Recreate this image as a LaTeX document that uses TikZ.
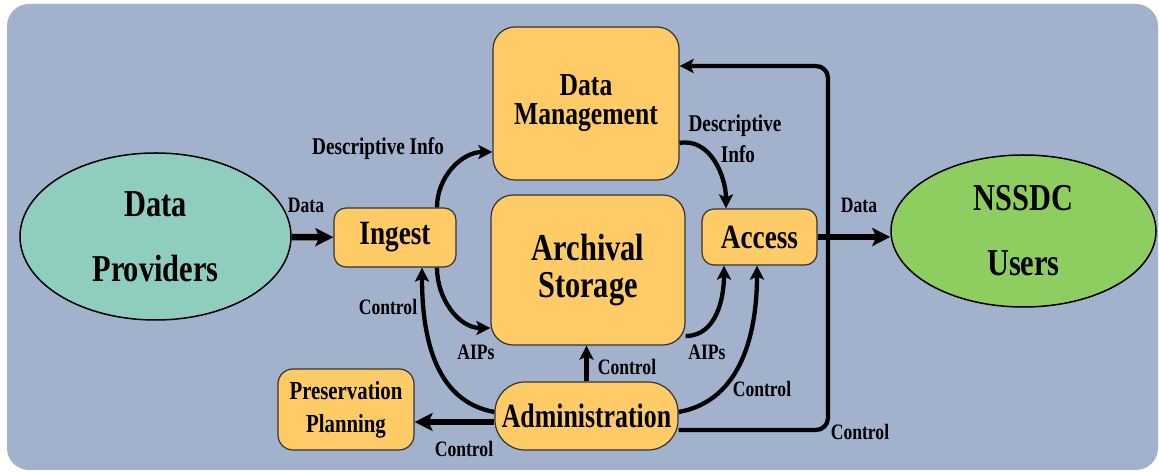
\documentclass[tikz,border=0pt]{standalone}
\usepackage{fontspec}
\setmainfont{Liberation Serif}
\usepackage{graphicx}
\usetikzlibrary{arrows.meta,shapes.geometric}
\definecolor{bgblue}{RGB}{162,177,204}
\definecolor{boxorange}{RGB}{254,203,102}
\definecolor{provteal}{RGB}{143,206,190}
\definecolor{usergreen}{RGB}{142,206,96}
\newcommand{\condtxt}[2][0.8]{\scalebox{#1}[1]{#2}}

\begin{document}
\begin{tikzpicture}[x=1pt,y=1pt,
    box/.style={draw=black!80, line width=1.2pt, fill=boxorange, inner sep=0pt, align=center},
    oval/.style={ellipse, draw=black, line width=1.5pt, inner sep=0pt, align=center,
        font=\bfseries\fontsize{38}{65}\selectfont},
    arr/.style={-{Stealth[length=14pt,width=14pt,inset=3pt]}, line width=4.3pt},
    fat/.style={-{Stealth[length=18pt,width=18pt,inset=4pt]}, line width=6.5pt},
    lbl/.style={font=\bfseries\fontsize{22}{24}\selectfont, inner sep=0pt, anchor=base}]
        \useasboundingbox (0,0) rectangle (1159,473);
        \fill[bgblue, rounded corners=22pt] (7,3) rectangle (1158,469);

        % outside parties
        \node[oval, fill=provteal, minimum width=271pt, minimum height=167pt] (dp) at (155.5,236.5) {\condtxt{Data}\\\condtxt{Providers}};
        \node[oval, fill=usergreen, minimum width=265pt, minimum height=152pt] (users) at (1023.5,242) {\condtxt{NSSDC}\\\condtxt{Users}};

        % archive functions
        \node[box, rounded corners=12pt, minimum width=122pt, minimum height=59pt,
            font=\bfseries\fontsize{34}{36}\selectfont] (ingest) at (395,235.5) {\condtxt{Ingest}};
        \node[box, rounded corners=12pt, minimum width=115pt, minimum height=56pt,
            font=\bfseries\fontsize{34}{36}\selectfont] (access) at (759.5,236) {\condtxt{Access}};
        \node[box, rounded corners=22pt, minimum width=186pt, minimum height=153pt,
            font=\bfseries\fontsize{32}{29}\selectfont] (dm) at (586,369.5) {\condtxt{Data}\\\condtxt{Management}};
        \node[box, rounded corners=22pt, minimum width=194pt, minimum height=150pt,
            font=\bfseries\fontsize{38}{37}\selectfont] (store) at (588,203) {\condtxt{Archival}\\\condtxt{Storage}};
        \node[box, rounded corners=30pt, minimum width=183pt, minimum height=68pt,
            font=\bfseries\fontsize{34}{36}\selectfont] (admin) at (586.5,57) {\condtxt[0.76]{Administration}};
        \node[box, rounded corners=15pt, minimum width=136pt, minimum height=81pt,
            font=\bfseries\fontsize{26}{33}\selectfont] (plan) at (346,63.5) {\condtxt{Preservation}\\\condtxt{Planning}};

        % flows
        \draw[fat] (dp) -- (ingest);
        \draw[arr] ([xshift=42pt]ingest.north) to[out=90,in=180] ([yshift=-48.5pt]dm.west);
        \draw[arr] ([xshift=42pt]ingest.south) to[out=-90,in=180] ([yshift=-58pt]store.west);
        \draw[arr] ([yshift=4pt]admin.west) to[out=170,in=-90] ([xshift=27pt]ingest.south);
        \draw[fat] ([yshift=-6pt]admin.west) -- ([yshift=-6pt]admin.west -| plan.east);
        \draw[arr] (admin.north) -- (admin.north |- store.south);
        \draw[arr] ([yshift=-66pt]store.east) to[out=0,in=-90] ([xshift=-35.5pt]access.south);
        \draw[arr] ([yshift=4pt]admin.east) to[out=10,in=-90] ([xshift=-2.5pt]access.south);
        \coordinate (turn) at (828,240);
        \draw[arr, rounded corners=12pt] ([yshift=-14pt]admin.east) -| (turn) |- ([yshift=37.5pt]dm.east);
        \draw[arr] ([yshift=-39.5pt]dm.east) to[out=10,in=90] ([xshift=-33.5pt]access.north);
        \draw[fat] (access.east) -- (access.east -| users.west);

        % labels
        \node[lbl] (ldata) at (306,260) {\condtxt{Data}};
        \node[lbl, font=\bfseries\fontsize{24}{26}\selectfont] (ldesc) at (378,318) {\condtxt{Descriptive Info}};
        \node[lbl] (laips) at (476,113) {\condtxt{AIPs}};
        \node[lbl] (lctrlin) at (388,158) {\condtxt{Control}};
        \node[lbl] (lctrlpl) at (464,16) {\condtxt{Control}};
        \node[lbl] (lctrlst) at (627,98) {\condtxt{Control}};
        \node[lbl] (laipsac) at (707,113) {\condtxt{AIPs}};
        \node[lbl] (lctrlac) at (762,76) {\condtxt{Control}};
        \node[lbl] (lctrldm) at (860,33) {\condtxt{Control}};
        \node[lbl, font=\bfseries\fontsize{24}{26}\selectfont] (ldescac) at (735,341) {\condtxt{Descriptive}};
        \node[lbl, font=\bfseries\fontsize{24}{26}\selectfont] (linfo) at (738,310) {\condtxt{Info}};
        \node[lbl] (ldataus) at (859,260) {\condtxt{Data}};
\end{tikzpicture}
\end{document}
